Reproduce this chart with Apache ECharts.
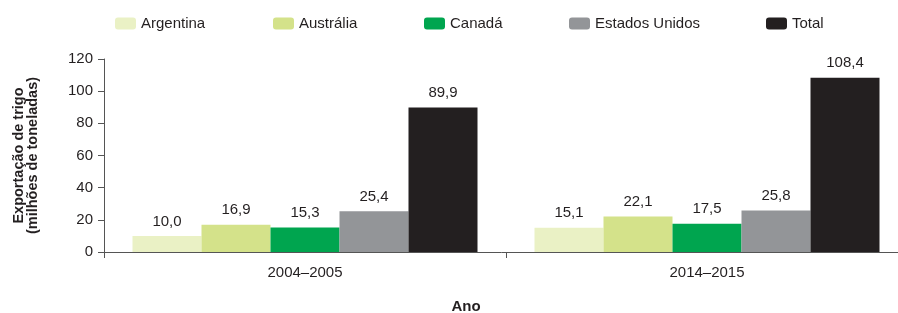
<!DOCTYPE html>
<html>
<head>
<meta charset="utf-8">
<script src="https://cdn.jsdelivr.net/npm/echarts@6/dist/echarts.min.js"></script>
<style>
  html, body { margin: 0; padding: 0; background: #ffffff; }
  #chart { width: 898px; height: 313px; }
</style>
</head>
<body>
<div id="chart"></div>
<script>
// dados
const periodos = ["2004–2005", "2014–2015"];
const paises = ["Argentina", "Austrália", "Canadá", "Estados Unidos", "Total"];
const argentina = [10.0, 15.1];
const australia = [16.9, 22.1];
const canada = [15.3, 17.5];
const estadosUnidos = [25.4, 25.8];
const total = [89.9, 108.4];
const yTicks = [0, 20, 40, 60, 80, 100, 120];

const cores = ["#eaf1c5", "#d4e28a", "#00a54f", "#939598", "#231f20"];
const valores = [argentina, australia, canada, estadosUnidos, total];
const legendaX = [115, 273, 424, 569, 766];

const chartDom = document.getElementById("chart");
const myChart = echarts.init(chartDom);

const fonte = "'Liberation Sans', Arial, sans-serif";

const option = {
  backgroundColor: "#FFFFFF",
  animation: false,
  textStyle: { fontFamily: fonte },
  title: {
    text: "Ano",
    left: 466,
    top: 299,
    padding: 0,
    textAlign: "center",
    textStyle: { fontSize: 15, fontWeight: "bold", color: "#231f20", fontFamily: fonte },
  },
  legend: paises.map((p, i) => ({
    data: [p],
    left: legendaX[i],
    top: 16,
    itemWidth: 21,
    itemHeight: 12,
    padding: 0,
    selectedMode: false,
    textStyle: { fontSize: 15, color: "#231f20", fontFamily: fonte, padding: [0, 0, 0, 0] },
  })),
  grid: {
    left: 104,
    width: 804,
    top: 59,
    height: 193,
    containLabel: false,
    outerBoundsMode: "none",
  },
  xAxis: {
    type: "category",
    data: periodos,
    axisLine: { lineStyle: { color: "#555555", width: 1 } },
    axisTick: { show: true, length: 6, lineStyle: { color: "#555555" } },
    axisLabel: { fontSize: 15, color: "#231f20", margin: 13, fontFamily: fonte },
  },
  yAxis: {
    type: "value",
    min: yTicks[0],
    max: yTicks[yTicks.length - 1],
    interval: 20,
    name: "Exportação de trigo\n(milhões de toneladas)",
    nameLocation: "middle",
    nameGap: 64,
    nameTextStyle: { fontSize: 14.5, fontWeight: "bold", color: "#231f20", lineHeight: 14, fontFamily: fonte },
    axisLine: { show: true, lineStyle: { color: "#555555", width: 1 } },
    axisTick: { show: true, length: 6, lineStyle: { color: "#555555" } },
    axisLabel: { fontSize: 15, color: "#231f20", margin: 11, fontFamily: fonte },
    splitLine: { show: false },
  },
  series: paises.map((p, i) => ({
    name: p,
    type: "bar",
    data: valores[i],
    barWidth: 69,
    barGap: "0%",
    itemStyle: { color: cores[i] },
    label: {
      show: true,
      position: "top",
      distance: 7,
      fontSize: 15,
      color: "#231f20",
      fontFamily: fonte,
      formatter: (d) => d.value.toFixed(1).replace(".", ","),
    },
  })),
};

myChart.setOption(option);
</script>
</body>
</html>
